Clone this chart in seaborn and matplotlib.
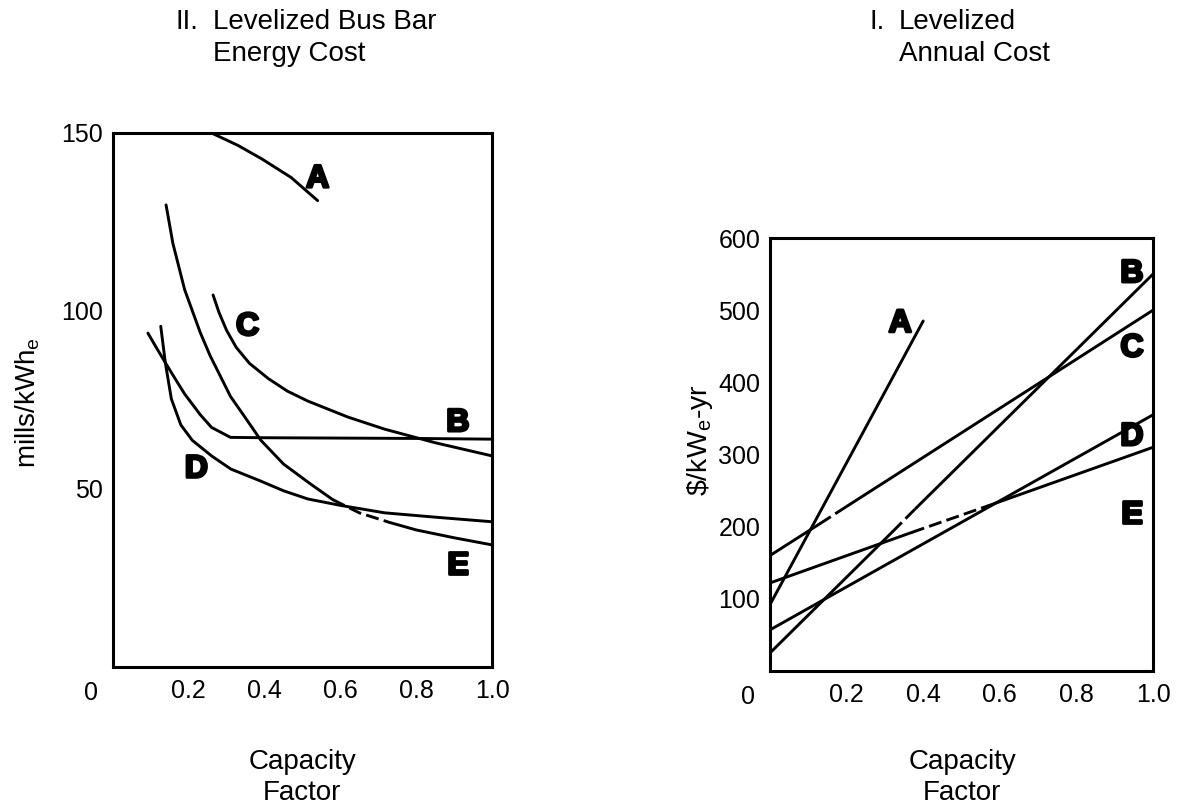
import matplotlib
matplotlib.use("Agg")
import matplotlib.pyplot as plt
import matplotlib.patheffects as pe
import seaborn as sns
import pandas as pd

# ---------------- data: left panel (II. Levelized Bus Bar Energy Cost) ----------------
left_A_x = [0.26, 0.33, 0.393, 0.47, 0.54]
left_A_y = [150, 146.5, 142.7, 137.5, 131]

left_B_x = [0.092, 0.115, 0.138, 0.165, 0.189, 0.23, 0.26, 0.31, 0.4, 0.6, 0.8, 1.0]
left_B_y = [93.8, 89.6, 85.5, 80.8, 76.7, 70.9, 67.3, 64.5, 64.4, 64.3, 64.2, 64.0]

left_C_x = [0.264, 0.28, 0.30, 0.325, 0.36, 0.41, 0.46, 0.514, 0.62, 0.717, 0.85, 1.0]
left_C_y = [104.5, 99.5, 94.5, 89.8, 85.3, 81, 77.5, 74.7, 70.2, 66.8, 63, 59.3]

left_D_x = [0.126, 0.138, 0.154, 0.179, 0.209, 0.26, 0.311, 0.388, 0.45, 0.514, 0.6, 0.717, 0.86, 1.0]
left_D_y = [95.7, 85.5, 75.3, 68.0, 63.7, 59.3, 55.6, 52.3, 49.5, 47.2, 45.4, 43.3, 42, 40.8]

left_E_x = [0.14, 0.158, 0.189, 0.23, 0.256, 0.31, 0.348, 0.39, 0.45, 0.52, 0.58, 0.65, 0.73, 0.8, 0.9, 1.0]
left_E_y = [129.8, 119, 106, 94, 87.5, 76, 70.2, 63.7, 57, 51.5, 47, 43.3, 40.6, 38.5, 36.3, 34.3]
left_E_dashed = (10, 12)   # point index range drawn dashed

left_labels = ["A", "B", "C", "D", "E"]
left_label_x = [0.54, 0.91, 0.355, 0.22, 0.91]
left_label_y = [137, 68.5, 95.5, 55.5, 28.5]

# ---------------- data: right panel (I. Levelized Annual Cost) ----------------
right_A_x = [0.0, 0.40]
right_A_y = [92, 485]

right_B_x = [0.0, 0.32, 0.38, 1.0]
right_B_y = [25, 193, 225, 550]
right_B_dashed = (1, 2)

right_C_x = [0.0, 0.13, 0.20, 1.0]
right_C_y = [160, 204, 228, 500]
right_C_dashed = (1, 2)

right_D_x = [0.0, 1.0]
right_D_y = [57, 355]

right_E_x = [0.0, 0.37, 0.57, 1.0]
right_E_y = [122, 192, 229, 310]
right_E_dashed = (1, 2)

right_labels = ["A", "B", "C", "D", "E"]
right_label_x = [0.34, 0.945, 0.945, 0.945, 0.945]
right_label_y = [481, 550, 447, 324, 216]

x_ticks = [0.2, 0.4, 0.6, 0.8, 1.0]
x_ticklabels = ["0.2", "0.4", "0.6", "0.8", "1.0"]
left_yticks = [50, 100, 150]
right_yticks = [100, 200, 300, 400, 500, 600]

# ---------------- style ----------------
sns.set_theme(style="white")
plt.rcParams["font.family"] = ["Liberation Sans", "DejaVu Sans"]
plt.rcParams["mathtext.fontset"] = "custom"
plt.rcParams["mathtext.rm"] = "Liberation Sans"
plt.rcParams["mathtext.it"] = "Liberation Sans:italic"
for k in ["text.color", "axes.labelcolor", "xtick.color", "ytick.color", "axes.edgecolor"]:
    plt.rcParams[k] = "black"

LW = 2.1
FS_TICK = 18
FS_TEXT = 20

fig = plt.figure(figsize=(11.82, 8.07), dpi=100)
W, H = 1182, 807
axL = fig.add_axes([113 / W, 1 - 667 / H, 379 / W, 534 / H])
axR = fig.add_axes([770 / W, 1 - 671 / H, 383 / W, 433 / H])


def draw_curve(ax, xs, ys, dashed=None):
    if dashed is None:
        segs = [(0, len(xs) - 1, "-")]
    else:
        a, b = dashed
        segs = [(0, a, "-"), (a, b, (0, (4.5, 1.8))), (b, len(xs) - 1, "-")]
    for i0, i1, ls in segs:
        if i1 <= i0:
            continue
        df = pd.DataFrame({"x": xs[i0:i1 + 1], "y": ys[i0:i1 + 1]})
        sns.lineplot(data=df, x="x", y="y", ax=ax, color="black", lw=LW,
                     linestyle=ls, sort=False, estimator=None,
                     solid_capstyle="round", solid_joinstyle="round")


def letter(ax, s, x, y):
    t = ax.text(x, y, s, fontsize=23, fontweight="bold", ha="center", va="center",
                color="black")
    t.set_path_effects([pe.withStroke(linewidth=2.0, foreground="black")])


# left
draw_curve(axL, left_A_x, left_A_y)
draw_curve(axL, left_B_x, left_B_y)
draw_curve(axL, left_C_x, left_C_y)
draw_curve(axL, left_D_x, left_D_y)
draw_curve(axL, left_E_x, left_E_y, left_E_dashed)
for s, x, y in zip(left_labels, left_label_x, left_label_y):
    letter(axL, s, x, y)

# right
draw_curve(axR, right_A_x, right_A_y)
draw_curve(axR, right_B_x, right_B_y, right_B_dashed)
draw_curve(axR, right_C_x, right_C_y, right_C_dashed)
draw_curve(axR, right_D_x, right_D_y)
draw_curve(axR, right_E_x, right_E_y, right_E_dashed)
for s, x, y in zip(right_labels, right_label_x, right_label_y):
    letter(axR, s, x, y)

for ax, yt, ylim in [(axL, left_yticks, (0, 150)), (axR, right_yticks, (0, 600))]:
    ax.set_xlim(0, 1.0)
    ax.set_ylim(*ylim)
    ax.set_xticks(x_ticks)
    ax.set_xticklabels(x_ticklabels)
    ax.set_yticks(yt)
    ax.set_yticklabels([str(v) for v in yt])
    ax.set_xlabel("")
    ax.set_ylabel("")
    ax.tick_params(axis="both", direction="in", length=11, width=2.0, color="black",
                   labelsize=FS_TICK, labelcolor="black")
    ax.tick_params(axis="x", pad=9)
    ax.tick_params(axis="y", pad=7)
    for sp in ax.spines.values():
        sp.set_visible(True)
        sp.set_color("black")
        sp.set_linewidth(2.2)
    ax.set_facecolor("white")
    ax.grid(False)
    # corner zero
    ax.annotate("0", xy=(0, 0), xycoords="axes fraction", xytext=(-22, -26),
                textcoords="offset pixels", fontsize=FS_TICK, ha="center", va="center",
                color="black")

# titles (hanging indent)
fig.text(175 / W, 1 - 22 / H, "II.", fontsize=FS_TEXT, ha="left", va="center")
fig.text(213 / W, 1 - 22 / H, "Levelized Bus Bar", fontsize=FS_TEXT, ha="left", va="center")
fig.text(213 / W, 1 - 54 / H, "Energy Cost", fontsize=FS_TEXT, ha="left", va="center")
fig.text(870 / W, 1 - 22 / H, "I.", fontsize=FS_TEXT, ha="left", va="center")
fig.text(899 / W, 1 - 22 / H, "Levelized", fontsize=FS_TEXT, ha="left", va="center")
fig.text(899 / W, 1 - 54 / H, "Annual Cost", fontsize=FS_TEXT, ha="left", va="center")

# axis labels
fig.text(28 / W, 1 - 403 / H, r"mills/kWh$_\mathrm{e}$", fontsize=20, rotation=90,
         ha="center", va="center")
fig.text(700 / W, 1 - 440 / H, r"\$/kW$_\mathrm{e}$-yr", fontsize=20.5, rotation=90,
         ha="center", va="center")
fig.text(302 / W, 1 - 762 / H, "Capacity", fontsize=FS_TEXT, ha="center", va="center")
fig.text(302 / W, 1 - 793 / H, "Factor", fontsize=FS_TEXT, ha="center", va="center")
fig.text(962 / W, 1 - 762 / H, "Capacity", fontsize=FS_TEXT, ha="center", va="center")
fig.text(962 / W, 1 - 793 / H, "Factor", fontsize=FS_TEXT, ha="center", va="center")

fig.savefig("out.png", dpi=100, facecolor="white")
